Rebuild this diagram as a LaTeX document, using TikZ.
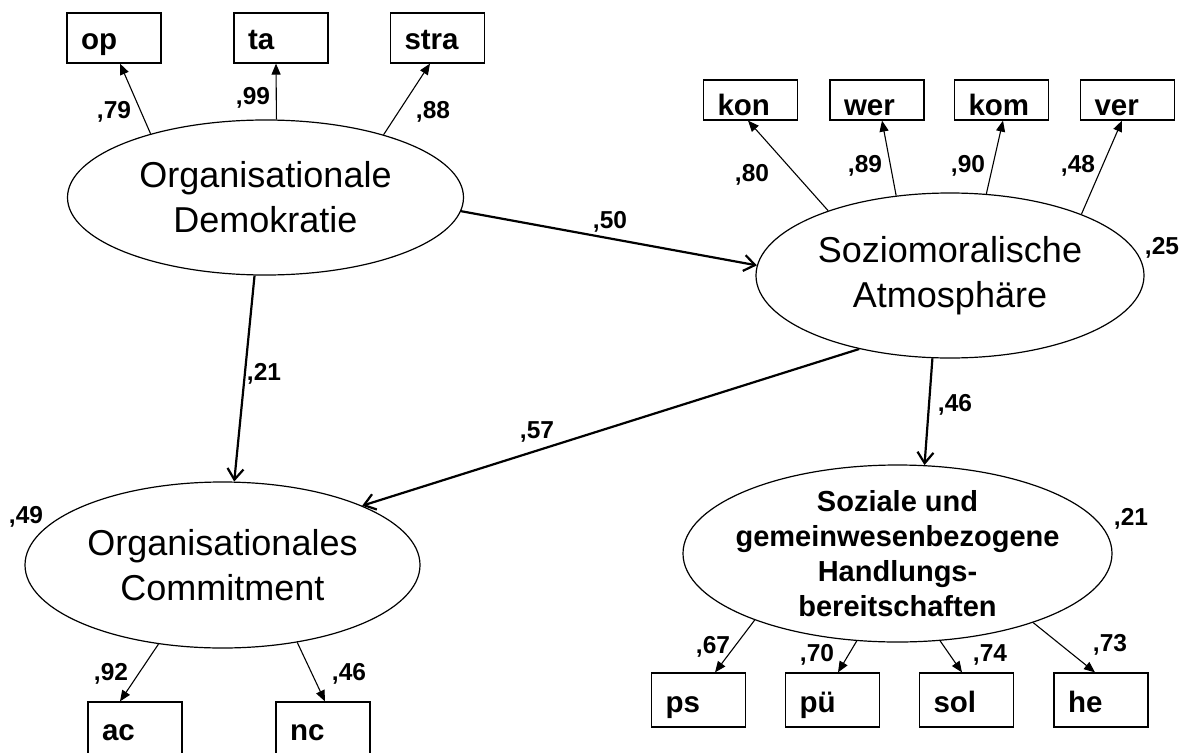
\documentclass[tikz,border=0pt]{standalone}
\usepackage{fontspec}
\setmainfont{Liberation Sans}
\usetikzlibrary{shapes.geometric,arrows.meta}
\begin{document}
\begin{tikzpicture}[x=1pt,y=-1pt,
  latent/.style={draw, ellipse, line width=1.2pt, inner sep=0pt, align=center,
    font=\fontsize{36}{45}\selectfont},
  obs/.style={draw, line width=1.2pt, inner xsep=14pt, inner ysep=0pt,
    text width=66pt, align=left, text depth=2pt,
    font=\bfseries\fontsize{29.5}{33}\selectfont},
  coef/.style={inner sep=0pt, font=\bfseries\fontsize{24.5}{28}\selectfont},
  load/.style={line width=1.1pt, -{Triangle[length=11pt,width=9pt]}},
  regr/.style={line width=2.2pt, -{Straight Barb[length=11pt,width=16pt]}}
]
\path[use as bounding box] (0,0) rectangle (1188,752);
\clip (0,0) rectangle (1188,752);

% latent variables
\node[latent, minimum width=396pt, minimum height=155pt] (OD) at (265.5,197.5)
  {Organisationale\\Demokratie};
\node[latent, minimum width=388pt, minimum height=165pt] (SA) at (950,275.5)
  {Soziomoralische\\Atmosphäre};
\node[latent, minimum width=395pt, minimum height=166pt] (OC) at (222.5,565)
  {Organisationales\\Commitment};
\node[latent, inner sep=-20pt, minimum width=429pt, minimum height=177pt,
  font=\bfseries\fontsize{29}{35}\selectfont] (SH) at (897.5,553.5)
  {Soziale und\\gemeinwesenbezogene\\Handlungs-\\bereitschaften};

% indicators
\node[obs, minimum height=50pt, text height=26pt] (op) at (114,38) {op};
\node[obs, minimum height=50pt, text height=26pt] (ta) at (281,38) {ta};
\node[obs, minimum height=50pt, text height=26pt] (stra) at (437.5,38) {stra};

\node[obs, minimum height=40pt, text height=32pt] (kon) at (750.5,100) {kon};
\node[obs, minimum height=40pt, text height=32pt] (wer) at (877,100) {wer};
\node[obs, minimum height=40pt, text height=32pt] (kom) at (1001.5,100) {kom};
\node[obs, minimum height=40pt, text height=32pt] (ver) at (1127.5,100) {ver};

\node[obs, minimum height=54pt, text height=26pt] (ps) at (698.5,700) {ps};
\node[obs, minimum height=54pt, text height=26pt] (pu) at (832.5,700) {pü};
\node[obs, minimum height=54pt, text height=26pt] (sol) at (966.5,700) {sol};
\node[obs, minimum height=54pt, text height=26pt] (he) at (1101,700) {he};

\node[obs, minimum height=54pt, text height=24pt] (ac) at (135,729) {ac};
\node[obs, minimum height=54pt, text height=24pt] (nc) at (323,729) {nc};

% loadings
\draw[load] (OD.151.6) -- ([xshift=6pt]op.south);
\draw[load] (OD.82.5) -- ([xshift=-5pt]ta.south);
\draw[load] (OD.28.4) -- ([xshift=-7.5pt]stra.south);

\draw[load] (SA.152.9) -- ([xshift=-2.5pt]kon.south);
\draw[load] (SA.124.8) -- ([xshift=5pt]wer.south);
\draw[load] (SA.66.4) -- ([xshift=1.5pt]kom.south);
\draw[load] (SA.25.7) -- ([xshift=-5.5pt]ver.south);

\draw[load] (SH.205.7) -- ([xshift=16.5pt]ps.north);
\draw[load] (SH.245.9) -- ([xshift=5.5pt]pu.north);
\draw[load] (SH.296.7) -- ([xshift=-4.5pt]sol.north);
\draw[load] (SH.333.5) -- ([xshift=-6pt]he.north);

\draw[load] (OC.231.3) -- ([xshift=-15pt]ac.north);
\draw[load] (OC.314) -- ([xshift=2pt]nc.north);

% structural paths
\draw[regr] (OD.-4.8) -- (SA.177.2);
\draw[regr] (OD.262.3) -- (OC.82.8);
\draw[regr] (SA.219.2) -- (OC.23.3);
\draw[regr] (SA.258.4) -- (SH.73.9);

% coefficients
\node[coef] (c79) at (114,112) {,79};
\node[coef] (c99) at (253,98) {,99};
\node[coef] (c88) at (433,112) {,88};
\node[coef] (c80) at (752,175) {,80};
\node[coef] (c89) at (865,166) {,89};
\node[coef] (c90) at (968,166) {,90};
\node[coef] (c48) at (1078,166) {,48};
\node[coef] (c25) at (1162,248) {,25};
\node[coef] (c50) at (610,222) {,50};
\node[coef] (c57) at (537,432) {,57};
\node[coef] (c21a) at (264,374) {,21};
\node[coef] (c46a) at (955,405) {,46};
\node[coef] (c49) at (26,517) {,49};
\node[coef] (c92) at (111,674) {,92};
\node[coef] (c46b) at (349,674) {,46};
\node[coef] (c21b) at (1131,519) {,21};
\node[coef] (c67) at (713,647) {,67};
\node[coef] (c70) at (817,655) {,70};
\node[coef] (c74) at (990,655) {,74};
\node[coef] (c73) at (1110,645) {,73};
\end{tikzpicture}
\end{document}
